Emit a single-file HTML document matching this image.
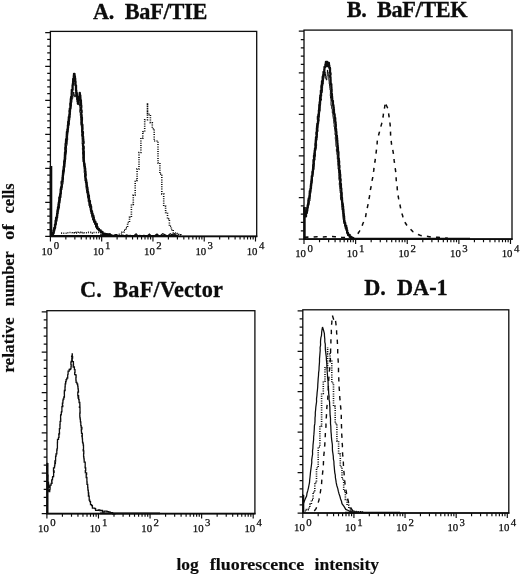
<!DOCTYPE html>
<html><head><meta charset="utf-8"><title>Figure</title>
<style>
html,body{margin:0;padding:0;background:#fff;}
svg{display:block}
text{font-family:"Liberation Serif","DejaVu Serif",serif;fill:#0c0c0c;white-space:pre}
.ti{font-size:22.3px;font-weight:bold;stroke:#0c0c0c;stroke-width:0.3px}
.xl{font-size:17px;font-weight:bold;stroke:#0c0c0c;stroke-width:0.15px}
.yl{font-size:17px;font-weight:bold;stroke:#0c0c0c;stroke-width:0.15px}
.tk{font-size:10.8px;stroke:#0c0c0c;stroke-width:0.25px}
</style></head><body>
<svg width="520" height="575" viewBox="0 0 520 575">
<rect width="520" height="575" fill="#fff"/>
<rect x="50.4" y="31.4" width="206.29999999999998" height="205.0" fill="none" stroke="#0c0c0c" stroke-width="1.3"/>
<path d="M49.8 236.4H257.3" stroke="#0c0c0c" stroke-width="1.7" fill="none"/>
<path d="M45.2 236.40H50.4M47.2 229.60H50.4M47.2 222.81H50.4M47.2 216.01H50.4M47.2 209.21H50.4M45.2 202.42H50.4M47.2 195.62H50.4M47.2 188.82H50.4M47.2 182.03H50.4M47.2 175.23H50.4M45.2 168.43H50.4M47.2 161.64H50.4M47.2 154.84H50.4M47.2 148.04H50.4M47.2 141.25H50.4M45.2 134.45H50.4M47.2 127.65H50.4M47.2 120.86H50.4M47.2 114.06H50.4M47.2 107.26H50.4M45.2 100.47H50.4M47.2 93.67H50.4M47.2 86.87H50.4M47.2 80.08H50.4M47.2 73.28H50.4M45.2 66.48H50.4M47.2 59.69H50.4M47.2 52.89H50.4M47.2 46.09H50.4M47.2 39.30H50.4M45.2 32.50H50.4" stroke="#0c0c0c" stroke-width="1.25" fill="none"/>
<path d="M50.40 236.4v5M65.84 236.4v3.2M74.86 236.4v3.2M81.27 236.4v3.2M86.24 236.4v3.2M90.30 236.4v3.2M93.73 236.4v3.2M96.71 236.4v3.2M99.33 236.4v3.2M101.67 236.4v5M117.11 236.4v3.2M126.14 236.4v3.2M132.55 236.4v3.2M137.51 236.4v3.2M141.57 236.4v3.2M145.01 236.4v3.2M147.98 236.4v3.2M150.60 236.4v3.2M152.95 236.4v5M168.39 236.4v3.2M177.41 236.4v3.2M183.82 236.4v3.2M188.79 236.4v3.2M192.85 236.4v3.2M196.28 236.4v3.2M199.26 236.4v3.2M201.88 236.4v3.2M204.22 236.4v5M219.66 236.4v3.2M228.69 236.4v3.2M235.10 236.4v3.2M240.06 236.4v3.2M244.12 236.4v3.2M247.56 236.4v3.2M250.53 236.4v3.2M253.15 236.4v3.2M255.50 236.4v5" stroke="#0c0c0c" stroke-width="1.15" fill="none"/>
<text x="52.4" y="254.7" text-anchor="end" class="tk">10</text>
<text x="53.8" y="248.9" class="tk">0</text>
<text x="103.7" y="254.7" text-anchor="end" class="tk">10</text>
<text x="105.1" y="248.9" class="tk">1</text>
<text x="154.9" y="254.7" text-anchor="end" class="tk">10</text>
<text x="156.3" y="248.9" class="tk">2</text>
<text x="206.2" y="254.7" text-anchor="end" class="tk">10</text>
<text x="207.6" y="248.9" class="tk">3</text>
<text x="257.5" y="254.7" text-anchor="end" class="tk">10</text>
<text x="258.9" y="248.9" class="tk">4</text>
<path d="M51.0 236.4V166" stroke="#0c0c0c" stroke-width="2.6" fill="none"/>
<path d="M52.0 235.0 L53.0 235.0 L53.0 233.0 L53.5 233.0 L53.5 230.4 L54.2 230.4 L54.2 227.9 L55.0 227.9 L55.0 224.6 L55.5 224.6 L55.5 222.5 L55.6 222.5 L55.6 220.7 L56.1 220.7 L56.1 217.7 L56.9 217.7 L56.9 215.8 L57.1 215.8 L57.1 213.6 L57.4 213.6 L57.4 211.0 L57.7 211.0 L57.7 209.6 L58.0 209.6 L58.0 207.2 L58.5 207.2 L58.5 204.2 L58.8 204.2 L58.8 202.5 L59.2 202.5 L59.2 200.3 L59.3 200.3 L59.3 197.4 L60.0 197.4 L60.0 195.6 L60.2 195.6 L60.2 193.9 L60.6 193.9 L60.6 191.6 L60.7 191.6 L60.7 189.2 L61.1 189.2 L61.1 187.1 L61.7 187.1 L61.7 183.8 L61.6 183.8 L61.6 181.7 L62.4 181.7 L62.4 179.7 L62.5 179.7 L62.5 177.5 L62.8 177.5 L62.8 175.0 L63.0 175.0 L63.0 172.8 L63.1 172.8 L63.1 170.8 L63.5 170.8 L63.5 168.9 L63.7 168.9 L63.7 166.7 L64.1 166.7 L64.1 164.5 L64.2 164.5 L64.2 161.2 L64.5 161.2 L64.5 159.9 L64.8 159.9 L64.8 157.1 L64.9 157.1 L64.9 154.4 L65.0 154.4 L65.0 152.5 L65.4 152.5 L65.4 150.3 L65.3 150.3 L65.3 147.4 L65.8 147.4 L65.8 146.3 L65.6 146.3 L65.6 143.7 L66.0 143.7 L66.0 140.7 L66.1 140.7 L66.1 139.2 L66.7 139.2 L66.7 136.0 L66.8 136.0 L66.8 133.7 L66.9 133.7 L66.9 132.0 L67.4 132.0 L67.4 129.3 L67.8 129.3 L67.8 127.7 L67.9 127.7 L67.9 125.2 L68.2 125.2 L68.2 121.7 L68.7 121.7 L68.7 119.2 L68.8 119.2 L68.8 117.1 L69.3 117.1 L69.3 114.8 L69.6 114.8 L69.6 112.1 L69.5 112.1 L69.5 110.7 L69.8 110.7 L69.8 108.6 L70.4 108.6 L70.4 105.6 L70.3 105.6 L70.3 103.5 L70.7 103.5 L70.7 101.4 L70.8 101.4 L70.8 99.0 L71.1 99.0 L71.1 96.9 L71.7 96.9 L71.7 94.6 L71.7 94.6 L71.7 92.6 L71.8 92.6 L71.8 89.9 L72.6 89.9 L72.6 88.0 L72.6 88.0 L72.6 85.1 L72.9 85.1 L72.9 83.5 L73.1 83.5 L73.1 81.2 L73.2 81.2 L73.2 78.8 L73.8 78.8 L73.8 75.7 L74.0 75.7 L74.0 73.8 L74.5 73.8 L74.5 76.2 L74.9 76.2 L74.9 78.5 L75.2 78.5 L75.2 81.4 L75.5 81.4 L75.5 83.5 L75.4 83.5 L75.4 85.3 L76.0 85.3 L76.0 88.8 L76.0 88.8 L76.0 90.5 L76.3 90.5 L76.3 92.9 L76.7 92.9 L76.7 94.9 L76.9 94.9 L76.9 97.0 L77.2 97.0 L77.2 99.6 L77.5 99.6 L77.5 101.5 L77.9 101.5 L77.9 103.8 L78.4 103.8 L78.4 101.1 L78.7 101.1 L78.7 99.7 L78.9 99.7 L78.9 96.9 L79.5 96.9 L79.5 94.8 L79.7 94.8 L79.7 92.9 L79.8 92.9 L79.8 95.3 L80.3 95.3 L80.3 97.4 L80.4 97.4 L80.4 100.2 L80.9 100.2 L80.9 102.8 L81.0 102.8 L81.0 105.4 L81.3 105.4 L81.3 107.5 L81.1 107.5 L81.1 110.5 L81.6 110.5 L81.6 112.7 L81.3 112.7 L81.3 114.8 L81.6 114.8 L81.6 117.3 L81.9 117.3 L81.9 120.5 L81.8 120.5 L81.8 122.6 L81.8 122.6 L81.8 124.7 L82.4 124.7 L82.4 127.5 L82.5 127.5 L82.5 129.5 L82.3 129.5 L82.3 131.8 L82.9 131.8 L82.9 134.1 L82.8 134.1 L82.8 136.6 L83.1 136.6 L83.1 138.9 L83.3 138.9 L83.3 141.4 L83.6 141.4 L83.6 143.3 L83.1 143.3 L83.1 146.6 L83.7 146.6 L83.7 149.0 L83.5 149.0 L83.5 151.2 L83.8 151.2 L83.8 152.7 L83.8 152.7 L83.8 155.8 L83.8 155.8 L83.8 157.7 L83.8 157.7 L83.8 160.0 L83.9 160.0 L83.9 162.1 L84.1 162.1 L84.1 164.0 L84.6 164.0 L84.6 166.5 L84.9 166.5 L84.9 168.5 L85.2 168.5 L85.2 171.5 L85.5 171.5 L85.5 174.0 L85.7 174.0 L85.7 175.8 L85.5 175.8 L85.5 178.3 L85.8 178.3 L85.8 180.0 L86.2 180.0 L86.2 182.5 L86.7 182.5 L86.7 184.8 L86.9 184.8 L86.9 187.5 L87.4 187.5 L87.4 189.1 L87.6 189.1 L87.6 191.9 L88.1 191.9 L88.1 194.1 L88.4 194.1 L88.4 195.6 L88.9 195.6 L88.9 198.6 L89.1 198.6 L89.1 200.9 L89.9 200.9 L89.9 203.1 L90.0 203.1 L90.0 205.0 L90.7 205.0 L90.7 206.6 L91.1 206.6 L91.1 209.7 L91.3 209.7 L91.3 211.2 L92.0 211.2 L92.0 213.6 L92.6 213.6 L92.6 215.7 L93.4 215.7 L93.4 217.3 L93.8 217.3 L93.8 220.0 L94.4 220.0 L94.4 221.7 L95.4 221.7 L95.4 223.9 L96.8 223.9 L96.8 227.0 L97.5 227.0 L97.5 228.8 L98.9 228.8 L98.9 230.4 L100.7 230.4 L100.7 231.9 L102.5 231.9 L102.5 233.8 L104.9 233.8 L104.9 234.4 L107.6 234.4 L107.6 234.5 L110.0 234.5 L110.0 235.2" stroke="#0c0c0c" stroke-width="2.3" fill="none" stroke-linejoin="round"/>
<path d="M53.5 234.0 L54.0 234.0 L54.0 232.1 L54.6 232.1 L54.6 229.8 L55.0 229.8 L55.0 228.4 L55.6 228.4 L55.6 225.7 L56.0 225.7 L56.0 224.1 L56.4 224.1 L56.4 222.0 L56.8 222.0 L56.8 220.5 L57.1 220.5 L57.1 217.9 L57.7 217.9 L57.7 216.1 L57.7 216.1 L57.7 213.8 L58.1 213.8 L58.1 211.6 L58.6 211.6 L58.6 210.2 L58.8 210.2 L58.8 208.3 L59.4 208.3 L59.4 206.1 L59.6 206.1 L59.6 203.6 L59.9 203.6 L59.9 202.0 L60.0 202.0 L60.0 200.5 L60.4 200.5 L60.4 197.7 L61.0 197.7 L61.0 196.2 L60.9 196.2 L60.9 193.8 L61.3 193.8 L61.3 191.8 L61.5 191.8 L61.5 190.0 L61.9 190.0 L61.9 187.9 L62.1 187.9 L62.1 185.6 L62.4 185.6 L62.4 184.4 L63.0 184.4 L63.0 182.1 L63.0 182.1 L63.0 179.6 L63.5 179.6 L63.5 178.0 L63.5 178.0 L63.5 175.8 L63.7 175.8 L63.7 173.8 L64.0 173.8 L64.0 171.7 L64.4 171.7 L64.4 170.0 L64.5 170.0 L64.5 167.9 L64.8 167.9 L64.8 166.3 L64.9 166.3 L64.9 163.6 L65.2 163.6 L65.2 161.9 L65.5 161.9 L65.5 159.6 L65.8 159.6 L65.8 157.5 L65.8 157.5 L65.8 155.9 L65.9 155.9 L65.9 154.4 L66.2 154.4 L66.2 152.0 L66.5 152.0 L66.5 149.7 L66.6 149.7 L66.6 148.1 L66.5 148.1 L66.5 145.6 L67.0 145.6 L67.0 144.2 L67.1 144.2 L67.1 141.9 L67.3 141.9 L67.3 139.8 L67.7 139.8 L67.7 138.5 L67.6 138.5 L67.6 135.5 L67.8 135.5 L67.8 134.3 L67.9 134.3 L67.9 131.6 L68.2 131.6 L68.2 130.0 L68.3 130.0 L68.3 128.2 L68.7 128.2 L68.7 125.8 L69.0 125.8 L69.0 124.3 L69.4 124.3 L69.4 122.3 L69.3 122.3 L69.3 120.3 L69.8 120.3 L69.8 118.4 L70.0 118.4 L70.0 116.1 L70.1 116.1 L70.1 114.4 L70.3 114.4 L70.3 112.0 L70.6 112.0 L70.6 110.2 L70.7 110.2 L70.7 107.6 L71.0 107.6 L71.0 106.1 L71.4 106.1 L71.4 103.7 L71.5 103.7 L71.5 102.5 L71.9 102.5 L71.9 100.0 L72.1 100.0 L72.1 98.4 L72.8 98.4 L72.8 96.1 L73.3 96.1 L73.3 94.2 L73.4 94.2 L73.4 92.0 L73.9 92.0 L73.9 94.9 L74.8 94.9 L74.8 97.0 L75.2 97.0 L75.2 95.4 L75.9 95.4 L75.9 92.6 L76.2 92.6 L76.2 91.0 L76.4 91.0 L76.4 92.5 L77.1 92.5 L77.1 95.3 L77.3 95.3 L77.3 96.6 L77.8 96.6 L77.8 99.0 L78.3 99.0 L78.3 101.6 L79.0 101.6 L79.0 104.0 L79.4 104.0 L79.4 106.0 L79.9 106.0 L79.9 108.3 L80.0 108.3 L80.0 109.5 L79.8 109.5 L79.8 112.4 L80.3 112.4 L80.3 113.8 L80.3 113.8 L80.3 115.8 L80.7 115.8 L80.7 118.0 L80.8 118.0 L80.8 120.0 L81.0 120.0 L81.0 121.7 L80.9 121.7 L80.9 123.7 L81.1 123.7 L81.1 125.6 L81.4 125.6 L81.4 127.6 L81.7 127.6 L81.7 130.0 L81.7 130.0 L81.7 132.1 L81.7 132.1 L81.7 133.5 L81.7 133.5 L81.7 135.8 L82.1 135.8 L82.1 138.0 L82.1 138.0 L82.1 139.8 L82.2 139.8 L82.2 142.3 L82.1 142.3 L82.1 143.9 L82.4 143.9 L82.4 145.8 L82.6 145.8 L82.6 147.7 L82.4 147.7 L82.4 149.7 L82.9 149.7 L82.9 151.8 L82.6 151.8 L82.6 154.5 L82.9 154.5 L82.9 156.5 L82.8 156.5 L82.8 158.3 L83.0 158.3 L83.0 160.0 L83.0 160.0 L83.0 161.8 L83.6 161.8 L83.6 164.2 L83.8 164.2 L83.8 166.2 L84.1 166.2 L84.1 167.9 L84.2 167.9 L84.2 170.1 L84.2 170.1 L84.2 172.9 L84.5 172.9 L84.5 174.9 L84.6 174.9 L84.6 177.0 L85.2 177.0 L85.2 178.9 L85.0 178.9 L85.0 181.1 L85.4 181.1 L85.4 183.0 L86.0 183.0 L86.0 185.4 L86.0 185.4 L86.0 187.1 L86.2 187.1 L86.2 189.5 L86.5 189.5 L86.5 191.1 L86.8 191.1 L86.8 193.1 L87.3 193.1 L87.3 195.5 L87.5 195.5 L87.5 197.6 L88.1 197.6 L88.1 199.3 L88.2 199.3 L88.2 201.8 L88.9 201.8 L88.9 204.3 L89.0 204.3 L89.0 206.0 L89.5 206.0 L89.5 207.6 L90.2 207.6 L90.2 210.5 L90.7 210.5 L90.7 212.0 L91.0 212.0 L91.0 214.1 L91.7 214.1 L91.7 216.5 L92.1 216.5 L92.1 218.0 L92.6 218.0 L92.6 220.0 L93.5 220.0 L93.5 222.3 L94.6 222.3 L94.6 224.3 L95.5 224.3 L95.5 227.2 L96.5 227.2 L96.5 229.0" stroke="#0c0c0c" stroke-width="1.0" fill="none"/>
<path d="M100.0 234.8 L101.9 234.9 L103.8 235.3 L105.7 233.8 L107.6 235.8 L109.5 233.9 L111.4 234.9 L113.3 235.7 L115.2 234.7 L117.1 235.4 L119.0 235.5 L120.9 235.6 L122.8 235.2 L124.7 235.8 L126.6 234.8 L128.5 235.6 L130.4 235.3 L132.3 235.8 L134.2 235.5 L136.1 233.9 L138.0 235.8 L139.9 235.4 L141.8 235.8 L143.7 235.4 L145.6 235.6 L147.5 235.6 L149.4 234.1 L151.3 235.9 L153.2 235.7 L155.1 235.3 L157.0 234.1 L158.9 235.7 L160.8 235.3 L162.7 233.7 L164.6 234.6 L166.5 235.6 L168.4 235.3 L170.3 233.8 L172.2 235.0 L174.1 233.7 L176.0 235.3 L177.9 235.4 L178.0 235.9" stroke="#0c0c0c" stroke-width="1.2" fill="none"/>
<path d="M50.4 235.9H178" stroke="#0c0c0c" stroke-width="2.0" fill="none"/>
<path d="M61.1 233.1 L63.0 233.1 L63.0 233.2 L64.9 233.2 L64.9 233.2 L66.8 233.2 L66.8 232.7 L68.7 232.7 L68.7 232.5 L70.6 232.5 L70.6 232.7 L72.5 232.7 L72.5 232.8 L74.4 232.8 L74.4 232.9 L76.3 232.9 L76.3 232.3 L78.2 232.3 L78.2 232.2 L80.1 232.2 L80.1 232.7 L82.0 232.7 L82.0 232.6 L83.9 232.6 L83.9 232.8 L85.8 232.8 L85.8 232.7 L87.7 232.7 L87.7 232.4 L89.6 232.4 L89.6 232.4 L91.5 232.4 L91.5 233.1 L93.4 233.1 L93.4 232.5 L95.3 232.5 L95.3 232.5 L97.2 232.5 L97.2 232.5 L99.1 232.5 L99.1 232.8 L101.0 232.8 L101.0 233.2 L102.9 233.2 L102.9 233.5 L104.8 233.5 L104.8 233.9 L106.7 233.9 L106.7 234.5 L108.6 234.5 L108.6 235.0 L110.5 235.0 L110.5 235.3 L112.4 235.3 L112.4 235.2 L114.3 235.2 L114.3 234.7 L116.2 234.7 L116.2 235.1 L118.1 235.1 L118.1 234.2 L120.0 234.2 L120.0 234.0 L121.9 234.0 L121.9 232.3 L123.8 232.3 L123.8 230.3 L125.7 230.3 L125.7 227.6 L127.6 227.6 L127.6 222.5 L129.5 222.5 L129.5 217.3 L131.4 217.3 L131.4 204.4 L133.3 204.4 L133.3 195.0 L135.2 195.0 L135.2 180.4 L137.1 180.4 L137.1 168.9 L139.0 168.9 L139.0 152.5 L140.9 152.5 L140.9 138.1 L142.8 138.1 L142.8 131.7 L144.7 131.7 L144.7 119.7 L147.5 119.7 L147.5 103.0 L147.5 103.0 L147.5 114.4 L150.4 114.4 L150.4 122.7 L152.3 122.7 L152.3 128.7 L154.2 128.7 L154.2 141.0 L156.1 141.0 L156.1 141.0 L158.0 141.0 L158.0 162.9 L159.9 162.9 L159.9 174.1 L161.8 174.1 L161.8 193.9 L163.7 193.9 L163.7 206.3 L165.6 206.3 L165.6 212.5 L167.5 212.5 L167.5 218.9 L169.4 218.9 L169.4 226.3 L171.3 226.3 L171.3 229.7 L173.2 229.7 L173.2 233.0 L175.1 233.0 L175.1 233.5 L177.0 233.5 L177.0 234.5 L178.9 234.5 L178.9 234.9 L180.8 234.9 L180.8 235.2 L181.3 235.2" stroke="#0c0c0c" stroke-width="1.6" stroke-dasharray="1.0 1.3" fill="none"/>
<rect x="304.0" y="30.1" width="208.0" height="209.0" fill="none" stroke="#0c0c0c" stroke-width="1.3"/>
<path d="M303.4 239.1H512.6" stroke="#0c0c0c" stroke-width="1.7" fill="none"/>
<path d="M298.8 239.10H304.0M300.8 230.78H304.0M300.8 222.47H304.0M300.8 214.15H304.0M300.8 205.84H304.0M298.8 197.52H304.0M300.8 189.20H304.0M300.8 180.89H304.0M300.8 172.57H304.0M300.8 164.26H304.0M298.8 155.94H304.0M300.8 147.62H304.0M300.8 139.31H304.0M300.8 130.99H304.0M300.8 122.68H304.0M298.8 114.36H304.0M300.8 106.04H304.0M300.8 97.73H304.0M300.8 89.41H304.0M300.8 81.10H304.0M298.8 72.78H304.0M300.8 64.46H304.0M300.8 56.15H304.0M300.8 47.83H304.0M300.8 39.52H304.0M298.8 31.20H304.0" stroke="#0c0c0c" stroke-width="1.25" fill="none"/>
<path d="M304.00 239.1v5M319.54 239.1v3.2M328.63 239.1v3.2M335.08 239.1v3.2M340.08 239.1v3.2M344.17 239.1v3.2M347.63 239.1v3.2M350.62 239.1v3.2M353.26 239.1v3.2M355.62 239.1v5M371.17 239.1v3.2M380.26 239.1v3.2M386.71 239.1v3.2M391.71 239.1v3.2M395.80 239.1v3.2M399.25 239.1v3.2M402.25 239.1v3.2M404.89 239.1v3.2M407.25 239.1v5M422.79 239.1v3.2M431.88 239.1v3.2M438.33 239.1v3.2M443.33 239.1v3.2M447.42 239.1v3.2M450.88 239.1v3.2M453.87 239.1v3.2M456.51 239.1v3.2M458.88 239.1v5M474.42 239.1v3.2M483.51 239.1v3.2M489.96 239.1v3.2M494.96 239.1v3.2M499.05 239.1v3.2M502.50 239.1v3.2M505.50 239.1v3.2M508.14 239.1v3.2M510.50 239.1v5" stroke="#0c0c0c" stroke-width="1.15" fill="none"/>
<text x="306.0" y="257.4" text-anchor="end" class="tk">10</text>
<text x="307.4" y="251.6" class="tk">0</text>
<text x="357.6" y="257.4" text-anchor="end" class="tk">10</text>
<text x="359.0" y="251.6" class="tk">1</text>
<text x="409.2" y="257.4" text-anchor="end" class="tk">10</text>
<text x="410.6" y="251.6" class="tk">2</text>
<text x="460.9" y="257.4" text-anchor="end" class="tk">10</text>
<text x="462.3" y="251.6" class="tk">3</text>
<text x="512.5" y="257.4" text-anchor="end" class="tk">10</text>
<text x="513.9" y="251.6" class="tk">4</text>
<path d="M304.5 239.1V207" stroke="#0c0c0c" stroke-width="2.4" fill="none"/>
<path d="M306.2 214.0 L306.7 214.0 L306.7 211.9 L307.6 211.9 L307.6 209.2 L307.8 209.2 L307.8 206.8 L308.3 206.8 L308.3 204.6 L309.1 204.6 L309.1 203.0 L309.2 203.0 L309.2 201.0 L310.0 201.0 L310.0 199.2 L309.9 199.2 L309.9 196.9 L310.3 196.9 L310.3 194.8 L310.3 194.8 L310.3 193.4 L310.9 193.4 L310.9 190.5 L310.8 190.5 L310.8 188.5 L311.6 188.5 L311.6 186.5 L311.7 186.5 L311.7 185.6 L311.7 185.6 L311.7 182.9 L312.2 182.9 L312.2 181.5 L312.5 181.5 L312.5 179.0 L312.5 179.0 L312.5 176.6 L312.8 176.6 L312.8 174.3 L313.3 174.3 L313.3 173.2 L313.4 173.2 L313.4 170.2 L313.8 170.2 L313.8 169.0 L314.0 169.0 L314.0 166.4 L314.3 166.4 L314.3 164.7 L314.4 164.7 L314.4 162.5 L314.4 162.5 L314.4 160.3 L314.9 160.3 L314.9 158.6 L314.9 158.6 L314.9 156.7 L315.4 156.7 L315.4 153.7 L315.2 153.7 L315.2 151.8 L315.4 151.8 L315.4 150.4 L315.9 150.4 L315.9 148.0 L316.2 148.0 L316.2 146.0 L316.6 146.0 L316.6 143.7 L316.4 143.7 L316.4 141.3 L316.7 141.3 L316.7 140.2 L317.0 140.2 L317.0 137.2 L317.1 137.2 L317.1 135.1 L317.5 135.1 L317.5 133.1 L317.4 133.1 L317.4 131.7 L318.0 131.7 L318.0 129.6 L317.9 129.6 L317.9 127.5 L318.1 127.5 L318.1 124.7 L318.3 124.7 L318.3 123.5 L318.7 123.5 L318.7 120.8 L319.1 120.8 L319.1 119.5 L319.0 119.5 L319.0 117.6 L319.3 117.6 L319.3 115.0 L319.4 115.0 L319.4 112.4 L319.8 112.4 L319.8 111.3 L320.1 111.3 L320.1 108.8 L320.2 108.8 L320.2 106.5 L320.4 106.5 L320.4 104.5 L320.7 104.5 L320.7 103.1 L320.7 103.1 L320.7 100.2 L321.5 100.2 L321.5 98.6 L321.2 98.6 L321.2 96.3 L321.7 96.3 L321.7 94.8 L321.6 94.8 L321.6 92.7 L322.3 92.7 L322.3 89.9 L322.4 89.9 L322.4 88.5 L322.6 88.5 L322.6 86.0 L322.8 86.0 L322.8 84.2 L323.3 84.2 L323.3 81.5 L323.4 81.5 L323.4 79.9 L323.6 79.9 L323.6 78.5 L324.0 78.5 L324.0 75.7 L324.5 75.7 L324.5 74.0 L324.8 74.0 L324.8 72.0 L325.1 72.0 L325.1 73.8 L325.5 73.8 L325.5 76.5 L325.7 76.5 L325.7 78.5 L326.3 78.5 L326.3 80.0 L326.8 80.0 L326.8 78.2 L326.9 78.2 L326.9 75.9 L327.2 75.9 L327.2 74.3 L327.3 74.3 L327.3 71.9 L327.4 71.9 L327.4 70.0 L327.6 70.0 L327.6 72.2 L328.2 72.2 L328.2 73.4 L328.3 73.4 L328.3 76.0 L328.8 76.0 L328.8 78.0 L328.8 78.0 L328.8 79.6 L329.0 79.6 L329.0 81.4 L329.2 81.4 L329.2 83.9 L329.6 83.9 L329.6 86.2 L329.7 86.2 L329.7 87.6 L330.0 87.6 L330.0 90.0 L330.4 90.0 L330.4 92.2 L330.4 92.2 L330.4 94.2 L330.3 94.2 L330.3 96.1 L330.5 96.1 L330.5 98.2 L330.9 98.2 L330.9 99.4 L331.0 99.4 L331.0 101.5 L331.0 101.5 L331.0 104.0 L331.0 104.0 L331.0 105.6 L331.7 105.6 L331.7 108.7 L332.3 108.7 L332.3 110.0 L332.3 110.0 L332.3 113.0 L332.9 113.0 L332.9 115.0 L332.9 115.0 L332.9 116.5 L333.2 116.5 L333.2 118.6 L333.7 118.6 L333.7 121.0 L333.8 121.0 L333.8 123.4 L334.2 123.4 L334.2 124.6 L334.1 124.6 L334.1 126.9 L334.7 126.9 L334.7 129.0 L334.9 129.0 L334.9 131.2 L335.1 131.2 L335.1 133.0 L335.0 133.0 L335.0 134.9 L335.5 134.9 L335.5 136.7 L335.3 136.7 L335.3 139.4 L335.7 139.4 L335.7 141.2 L335.7 141.2 L335.7 142.4 L335.9 142.4 L335.9 144.9 L336.0 144.9 L336.0 146.7 L336.8 146.7 L336.8 148.9 L336.4 148.9 L336.4 151.4 L336.9 151.4 L336.9 153.0 L336.9 153.0 L336.9 154.6 L337.3 154.6 L337.3 157.2 L337.3 157.2 L337.3 159.3 L337.8 159.3 L337.8 160.8 L337.7 160.8 L337.7 162.4 L337.9 162.4 L337.9 164.8 L338.1 164.8 L338.1 167.3 L338.1 167.3 L338.1 169.2 L338.7 169.2 L338.7 170.6 L338.7 170.6 L338.7 173.0 L339.0 173.0 L339.0 174.5 L338.8 174.5 L338.8 176.6 L338.9 176.6 L338.9 179.5 L339.2 179.5 L339.2 180.8 L339.7 180.8 L339.7 182.5 L339.3 182.5 L339.3 185.3 L339.7 185.3 L339.7 187.4 L339.9 187.4 L339.9 189.5 L339.9 189.5 L339.9 190.7 L340.2 190.7 L340.2 193.0 L340.7 193.0 L340.7 195.1 L340.4 195.1 L340.4 196.6 L340.6 196.6 L340.6 199.5 L341.2 199.5 L341.2 200.8 L341.6 200.8 L341.6 203.7 L341.7 203.7 L341.7 205.5 L341.8 205.5 L341.8 207.7 L342.0 207.7 L342.0 210.1 L342.4 210.1 L342.4 211.9 L342.8 211.9 L342.8 214.3 L342.8 214.3 L342.8 215.3 L343.0 215.3 L343.0 218.4 L343.1 218.4 L343.1 219.6 L343.5 219.6 L343.5 222.0 L344.0 222.0 L344.0 223.9 L344.9 223.9 L344.9 226.4 L345.1 226.4 L345.1 228.6 L346.0 228.6 L346.0 230.2 L346.5 230.2 L346.5 233.0" stroke="#0c0c0c" stroke-width="1.0" fill="none"/>
<path d="M304.3 207.0 L304.3 207.0 L304.3 209.0 L304.5 209.0 L304.5 211.4 L304.5 211.4 L304.5 214.0 L304.8 214.0 L304.8 216.4 L306.0 216.4 L306.0 213.0 L306.8 213.0 L306.8 210.8 L307.2 210.8 L307.2 207.7 L307.7 207.7 L307.7 205.2 L308.2 205.2 L308.2 202.9 L308.4 202.9 L308.4 200.1 L308.7 200.1 L308.7 198.5 L309.4 198.5 L309.4 196.0 L309.7 196.0 L309.7 193.0 L309.8 193.0 L309.8 191.1 L310.4 191.1 L310.4 188.9 L310.8 188.9 L310.8 185.8 L311.0 185.8 L311.0 184.0 L311.3 184.0 L311.3 181.1 L311.6 181.1 L311.6 179.0 L311.8 179.0 L311.8 176.2 L312.3 176.2 L312.3 174.7 L312.4 174.7 L312.4 171.8 L312.9 171.8 L312.9 169.7 L313.1 169.7 L313.1 167.6 L313.2 167.6 L313.2 164.8 L313.5 164.8 L313.5 162.5 L313.5 162.5 L313.5 160.0 L314.1 160.0 L314.1 157.4 L314.0 157.4 L314.0 155.7 L314.4 155.7 L314.4 153.2 L314.7 153.2 L314.7 150.7 L315.0 150.7 L315.0 148.5 L315.5 148.5 L315.5 145.9 L315.4 145.9 L315.4 143.7 L315.7 143.7 L315.7 141.5 L315.8 141.5 L315.8 139.7 L316.0 139.7 L316.0 137.2 L316.6 137.2 L316.6 134.5 L316.4 134.5 L316.4 132.4 L316.9 132.4 L316.9 130.5 L316.9 130.5 L316.9 127.9 L317.1 127.9 L317.1 125.8 L317.3 125.8 L317.3 123.8 L317.9 123.8 L317.9 121.8 L318.1 121.8 L318.1 119.5 L317.9 119.5 L317.9 116.6 L318.4 116.6 L318.4 114.5 L318.9 114.5 L318.9 112.4 L318.9 112.4 L318.9 110.3 L319.2 110.3 L319.2 107.8 L319.3 107.8 L319.3 104.8 L319.7 104.8 L319.7 102.4 L319.9 102.4 L319.9 100.9 L320.1 100.9 L320.1 97.6 L320.3 97.6 L320.3 95.4 L320.9 95.4 L320.9 93.2 L320.9 93.2 L320.9 90.6 L321.5 90.6 L321.5 88.6 L321.4 88.6 L321.4 85.9 L321.8 85.9 L321.8 84.0 L322.0 84.0 L322.0 81.2 L322.7 81.2 L322.7 78.8 L322.7 78.8 L322.7 76.7 L323.2 76.7 L323.2 74.8 L323.5 74.8 L323.5 71.9 L324.3 71.9 L324.3 69.3 L324.5 69.3 L324.5 67.0 L325.4 67.0 L325.4 64.4 L325.9 64.4 L325.9 61.9 L327.2 61.9 L327.2 66.0 L328.5 66.0 L328.5 63.0 L328.9 63.0 L328.9 65.4 L329.3 65.4 L329.3 67.9 L330.0 67.9 L330.0 70.4 L330.0 70.4 L330.0 73.1 L330.5 73.1 L330.5 75.1 L330.2 75.1 L330.2 77.2 L330.5 77.2 L330.5 79.5 L330.6 79.5 L330.6 82.6 L330.7 82.6 L330.7 84.1 L331.3 84.1 L331.3 87.0 L331.4 87.0 L331.4 89.2 L331.6 89.2 L331.6 91.8 L331.5 91.8 L331.5 94.0 L331.9 94.0 L331.9 96.4 L332.1 96.4 L332.1 98.0 L332.2 98.0 L332.2 100.9 L332.9 100.9 L332.9 103.2 L332.9 103.2 L332.9 105.1 L333.4 105.1 L333.4 107.2 L333.7 107.2 L333.7 109.3 L333.9 109.3 L333.9 111.6 L334.0 111.6 L334.0 114.1 L334.6 114.1 L334.6 115.4 L334.7 115.4 L334.7 118.0 L335.2 118.0 L335.2 120.7 L335.2 120.7 L335.2 122.1 L335.6 122.1 L335.6 124.4 L335.8 124.4 L335.8 127.2 L335.6 127.2 L335.6 129.0 L336.1 129.0 L336.1 131.7 L336.4 131.7 L336.4 134.3 L336.3 134.3 L336.3 135.6 L336.9 135.6 L336.9 137.9 L337.1 137.9 L337.1 140.3 L337.3 140.3 L337.3 143.2 L337.5 143.2 L337.5 145.3 L337.7 145.3 L337.7 147.2 L337.9 147.2 L337.9 149.6 L338.0 149.6 L338.0 152.0 L338.4 152.0 L338.4 154.5 L338.4 154.5 L338.4 156.5 L338.3 156.5 L338.3 158.3 L338.8 158.3 L338.8 161.0 L339.1 161.0 L339.1 163.4 L338.9 163.4 L338.9 165.4 L339.4 165.4 L339.4 167.9 L339.2 167.9 L339.2 170.4 L339.8 170.4 L339.8 171.9 L339.9 171.9 L339.9 174.5 L340.2 174.5 L340.2 176.7 L340.1 176.7 L340.1 179.1 L340.6 179.1 L340.6 181.0 L340.4 181.0 L340.4 183.8 L340.9 183.8 L340.9 185.9 L340.9 185.9 L340.9 188.5 L341.3 188.5 L341.3 190.0 L341.3 190.0 L341.3 192.7 L341.7 192.7 L341.7 194.7 L341.7 194.7 L341.7 197.7 L342.0 197.7 L342.0 200.0 L342.1 200.0 L342.1 202.4 L342.4 202.4 L342.4 204.0 L342.8 204.0 L342.8 206.5 L343.1 206.5 L343.1 209.4 L343.4 209.4 L343.4 210.9 L343.5 210.9 L343.5 213.7 L343.8 213.7 L343.8 216.2 L344.1 216.2 L344.1 217.9 L344.2 217.9 L344.2 221.0 L344.6 221.0 L344.6 223.0 L345.2 223.0 L345.2 225.7 L346.2 225.7 L346.2 227.9 L346.7 227.9 L346.7 230.3 L347.2 230.3 L347.2 233.0 L348.0 233.0 L348.0 235.0 L349.7 235.0 L349.7 236.9 L351.5 236.9 L351.5 238.0" stroke="#0c0c0c" stroke-width="2.3" fill="none" stroke-linejoin="round"/>
<path d="M350 238.7H470" stroke="#0c0c0c" stroke-width="2.0" fill="none"/>
<path d="M304.5 237.3 L307.6 237.1 L310.6 237.5 L313.6 237.1 L317.1 236.7 L320.0 237.0 L323.0 237.0 L325.8 236.8 L329.1 236.8 L332.1 236.5 L335.0 236.7 L338.1 236.5 L341.5 237.3 L344.8 237.4 L348.0 237.3 L353.5 237.8 L357.5 234.3 L359.5 231.1 L361.6 227.5 L362.8 223.8 L364.3 220.5 L365.6 216.8 L366.2 213.1 L366.9 209.8 L367.5 206.9 L368.3 203.3 L368.7 200.3 L369.5 196.4 L369.9 193.5 L370.3 190.2 L371.0 187.0 L371.7 183.5 L372.1 180.3 L372.7 177.7 L373.0 173.7 L373.7 170.9 L374.0 167.7 L374.4 164.1 L375.0 161.5 L375.4 157.9 L375.9 154.7 L376.3 151.1 L376.7 148.0 L377.1 145.3 L377.2 141.8 L377.8 138.5 L378.7 134.7 L379.5 131.8 L380.5 127.8 L381.6 123.9 L382.3 121.0 L383.1 117.0 L383.4 114.1 L383.8 110.9 L384.5 108.1 L385.0 104.7 L385.3 102.1 L386.6 105.8 L388.0 108.9 L388.5 112.2 L388.9 116.0 L389.5 118.6 L389.9 122.4 L390.2 125.4 L390.3 128.4 L390.5 131.7 L390.6 135.0 L390.8 138.3 L391.2 141.2 L391.6 144.7 L392.4 147.7 L392.9 150.7 L393.5 154.1 L393.9 157.4 L394.2 160.9 L394.6 163.6 L395.1 166.7 L395.4 169.7 L395.9 173.0 L396.1 176.3 L396.2 179.8 L396.6 183.0 L397.2 185.8 L397.2 188.5 L397.6 192.0 L398.0 195.2 L398.7 198.9 L399.3 201.7 L400.0 205.0 L400.7 208.7 L401.4 212.3 L402.6 215.5 L403.4 219.4 L405.4 223.0 L407.4 226.2 L410.2 228.8 L412.8 231.6 L415.7 232.7 L418.3 234.5 L420.9 235.6 L424.7 236.2 L427.9 236.4 L431.7 237.3 L435.0 237.2 L438.2 237.3 L441.5 237.6 L444.5 237.8 L447.9 238.2" stroke="#0c0c0c" stroke-width="1.5" stroke-dasharray="4 5.2" fill="none"/>
<rect x="46.9" y="310.7" width="208.0" height="202.90000000000003" fill="none" stroke="#0c0c0c" stroke-width="1.3"/>
<path d="M46.3 513.6H255.5" stroke="#0c0c0c" stroke-width="1.7" fill="none"/>
<path d="M41.7 513.60H46.9M43.7 505.53H46.9M43.7 497.46H46.9M43.7 489.38H46.9M43.7 481.31H46.9M41.7 473.24H46.9M43.7 465.17H46.9M43.7 457.10H46.9M43.7 449.02H46.9M43.7 440.95H46.9M41.7 432.88H46.9M43.7 424.81H46.9M43.7 416.74H46.9M43.7 408.66H46.9M43.7 400.59H46.9M41.7 392.52H46.9M43.7 384.45H46.9M43.7 376.38H46.9M43.7 368.30H46.9M43.7 360.23H46.9M41.7 352.16H46.9M43.7 344.09H46.9M43.7 336.02H46.9M43.7 327.94H46.9M43.7 319.87H46.9M41.7 311.80H46.9" stroke="#0c0c0c" stroke-width="1.25" fill="none"/>
<path d="M46.90 513.6v5M62.43 513.6v3.2M71.51 513.6v3.2M77.95 513.6v3.2M82.95 513.6v3.2M87.03 513.6v3.2M90.49 513.6v3.2M93.48 513.6v3.2M96.12 513.6v3.2M98.47 513.6v5M114.00 513.6v3.2M123.08 513.6v3.2M129.53 513.6v3.2M134.52 513.6v3.2M138.61 513.6v3.2M142.06 513.6v3.2M145.05 513.6v3.2M147.69 513.6v3.2M150.05 513.6v5M165.58 513.6v3.2M174.66 513.6v3.2M181.10 513.6v3.2M186.10 513.6v3.2M190.18 513.6v3.2M193.64 513.6v3.2M196.63 513.6v3.2M199.27 513.6v3.2M201.63 513.6v5M217.15 513.6v3.2M226.23 513.6v3.2M232.68 513.6v3.2M237.67 513.6v3.2M241.76 513.6v3.2M245.21 513.6v3.2M248.20 513.6v3.2M250.84 513.6v3.2M253.20 513.6v5" stroke="#0c0c0c" stroke-width="1.15" fill="none"/>
<text x="48.9" y="531.9" text-anchor="end" class="tk">10</text>
<text x="50.3" y="526.1" class="tk">0</text>
<text x="100.5" y="531.9" text-anchor="end" class="tk">10</text>
<text x="101.9" y="526.1" class="tk">1</text>
<text x="152.1" y="531.9" text-anchor="end" class="tk">10</text>
<text x="153.5" y="526.1" class="tk">2</text>
<text x="203.6" y="531.9" text-anchor="end" class="tk">10</text>
<text x="205.0" y="526.1" class="tk">3</text>
<text x="255.2" y="531.9" text-anchor="end" class="tk">10</text>
<text x="256.6" y="526.1" class="tk">4</text>
<path d="M47.4 513.6V463" stroke="#0c0c0c" stroke-width="2.2" fill="none"/>
<path d="M47.0 463.4 L47.4 463.4 L47.4 466.0 L47.2 466.0 L47.2 466.6 L46.7 466.6 L46.7 469.3 L47.3 469.3 L47.3 471.3 L47.3 471.3 L47.3 473.2 L47.3 473.2 L47.3 475.1 L47.9 475.1 L47.9 476.1 L47.8 476.1 L47.8 478.6 L47.8 478.6 L47.8 480.0 L47.6 480.0 L47.6 482.1 L48.5 482.1 L48.5 483.4 L48.6 483.4 L48.6 486.2 L48.8 486.2 L48.8 487.4 L48.1 487.4 L48.1 490.3 L48.8 490.3 L48.8 491.6 L49.7 491.6 L49.7 489.7 L50.0 489.7 L50.0 488.0 L50.1 488.0 L50.1 485.2 L51.1 485.2 L51.1 483.3 L52.0 483.3 L52.0 481.9 L51.7 481.9 L51.7 479.9 L52.5 479.9 L52.5 477.5 L52.7 477.5 L52.7 476.6 L53.6 476.6 L53.6 473.8 L53.6 473.8 L53.6 472.3 L54.1 472.3 L54.1 471.0 L53.5 471.0 L53.5 467.8 L54.5 467.8 L54.5 465.8 L54.8 465.8 L54.8 463.5 L55.4 463.5 L55.4 462.6 L54.9 462.6 L54.9 461.0 L55.6 461.0 L55.6 458.8 L55.6 458.8 L55.6 456.2 L56.1 456.2 L56.1 454.1 L56.0 454.1 L56.0 453.8 L56.8 453.8 L56.8 450.0 L57.1 450.0 L57.1 448.1 L56.9 448.1 L56.9 448.1 L57.4 448.1 L57.4 444.9 L57.4 444.9 L57.4 443.1 L57.4 443.1 L57.4 442.5 L57.5 442.5 L57.5 439.3 L58.5 439.3 L58.5 437.4 L59.0 437.4 L59.0 435.1 L58.8 435.1 L58.8 433.8 L59.5 433.8 L59.5 432.7 L59.4 432.7 L59.4 430.8 L59.4 430.8 L59.4 428.7 L60.0 428.7 L60.0 426.1 L59.9 426.1 L59.9 424.6 L60.1 424.6 L60.1 421.3 L60.7 421.3 L60.7 419.8 L60.7 419.8 L60.7 419.0 L60.6 419.0 L60.6 415.4 L60.8 415.4 L60.8 414.7 L61.3 414.7 L61.3 412.1 L61.6 412.1 L61.6 411.6 L61.9 411.6 L61.9 408.8 L61.9 408.8 L61.9 406.7 L62.8 406.7 L62.8 405.4 L62.4 405.4 L62.4 403.2 L62.9 403.2 L62.9 400.7 L63.1 400.7 L63.1 399.2 L63.8 399.2 L63.8 397.4 L63.9 397.4 L63.9 397.0 L64.4 397.0 L64.4 393.9 L64.3 393.9 L64.3 392.0 L64.4 392.0 L64.4 390.5 L65.1 390.5 L65.1 389.7 L65.0 389.7 L65.0 386.9 L65.2 386.9 L65.2 383.9 L65.7 383.9 L65.7 382.0 L65.6 382.0 L65.6 381.6 L66.1 381.6 L66.1 379.6 L66.8 379.6 L66.8 378.1 L67.7 378.1 L67.7 374.2 L67.4 374.2 L67.4 374.2 L68.1 374.2 L68.1 371.2 L69.2 371.2 L69.2 369.5 L70.3 369.5 L70.3 368.8 L71.0 368.8 L71.0 366.6 L71.2 366.6 L71.2 364.7 L70.9 364.7 L70.9 362.7 L71.1 362.7 L71.1 361.5 L71.8 361.5 L71.8 358.6 L72.0 358.6 L72.0 356.7 L71.6 356.7 L71.6 356.1 L72.2 356.1 L72.2 354.0 L72.3 354.0 L72.3 356.7 L72.6 356.7 L72.6 358.2 L72.2 358.2 L72.2 360.3 L72.3 360.3 L72.3 361.7 L73.4 361.7 L73.4 364.2 L73.5 364.2 L73.5 365.0 L73.2 365.0 L73.2 367.0 L74.4 367.0 L74.4 369.7 L75.0 369.7 L75.0 372.3 L74.7 372.3 L74.7 374.7 L75.9 374.7 L75.9 375.6 L76.1 375.6 L76.1 377.6 L75.9 377.6 L75.9 380.2 L76.1 380.2 L76.1 382.4 L76.9 382.4 L76.9 383.8 L77.6 383.8 L77.6 385.2 L77.8 385.2 L77.8 386.6 L78.0 386.6 L78.0 388.9 L78.3 388.9 L78.3 391.1 L78.5 391.1 L78.5 392.1 L77.8 392.1 L77.8 395.7 L78.6 395.7 L78.6 397.0 L78.1 397.0 L78.1 398.0 L78.7 398.0 L78.7 399.6 L79.1 399.6 L79.1 402.5 L79.8 402.5 L79.8 405.0 L79.9 405.0 L79.9 406.8 L79.4 406.8 L79.4 407.3 L80.0 407.3 L80.0 409.3 L80.0 409.3 L80.0 412.0 L80.1 412.0 L80.1 413.1 L79.8 413.1 L79.8 416.0 L79.9 416.0 L79.9 417.9 L80.2 417.9 L80.2 419.3 L80.4 419.3 L80.4 421.9 L80.8 421.9 L80.8 423.0 L80.8 423.0 L80.8 425.7 L81.2 425.7 L81.2 427.5 L81.9 427.5 L81.9 429.2 L81.3 429.2 L81.3 430.9 L81.5 430.9 L81.5 433.4 L82.3 433.4 L82.3 435.3 L81.9 435.3 L81.9 436.7 L82.3 436.7 L82.3 438.9 L82.5 438.9 L82.5 442.1 L82.8 442.1 L82.8 443.2 L83.2 443.2 L83.2 445.1 L83.5 445.1 L83.5 446.4 L83.5 446.4 L83.5 449.7 L83.2 449.7 L83.2 450.9 L83.8 450.9 L83.8 452.5 L83.8 452.5 L83.8 453.5 L83.6 453.5 L83.6 456.9 L83.9 456.9 L83.9 458.7 L84.1 458.7 L84.1 459.9 L84.2 459.9 L84.2 462.2 L85.2 462.2 L85.2 463.4 L85.2 463.4 L85.2 466.9 L85.1 466.9 L85.1 467.8 L85.7 467.8 L85.7 470.6 L85.3 470.6 L85.3 472.1 L85.4 472.1 L85.4 472.8 L86.6 472.8 L86.6 474.6 L86.2 474.6 L86.2 477.5 L86.9 477.5 L86.9 479.9 L86.9 479.9 L86.9 481.8 L87.1 481.8 L87.1 482.7 L87.0 482.7 L87.0 484.3 L87.7 484.3 L87.7 487.5 L87.9 487.5 L87.9 488.1 L87.9 488.1 L87.9 490.1 L88.3 490.1 L88.3 493.0 L88.7 493.0 L88.7 494.8 L88.4 494.8 L88.4 496.2 L89.2 496.2 L89.2 498.7 L89.2 498.7 L89.2 500.2 L89.8 500.2 L89.8 501.6 L90.5 501.6 L90.5 504.7 L91.6 504.7 L91.6 505.6 L92.4 505.6 L92.4 508.1 L94.8 508.1 L94.8 508.6 L95.6 508.6 L95.6 510.3 L98.3 510.3 L98.3 509.9 L99.8 509.9 L99.8 510.5 L102.5 510.5 L102.5 512.2 L104.1 512.2 L104.1 511.2 L107.0 511.2 L107.0 511.6 L108.8 511.6 L108.8 512.1 L110.4 512.1 L110.4 512.6 L112.6 512.6 L112.6 513.9 L115.0 513.9 L115.0 513.0" stroke="#0c0c0c" stroke-width="1.3" fill="none"/>
<path d="M100 513.3000000000001H160" stroke="#0c0c0c" stroke-width="1.8" fill="none"/>
<rect x="302.8" y="309.8" width="206.0" height="203.2" fill="none" stroke="#0c0c0c" stroke-width="1.3"/>
<path d="M302.2 513H509.40000000000003" stroke="#0c0c0c" stroke-width="1.7" fill="none"/>
<path d="M297.6 513.00H302.8M299.6 504.92H302.8M299.6 496.83H302.8M299.6 488.75H302.8M299.6 480.66H302.8M297.6 472.58H302.8M299.6 464.50H302.8M299.6 456.41H302.8M299.6 448.33H302.8M299.6 440.24H302.8M297.6 432.16H302.8M299.6 424.08H302.8M299.6 415.99H302.8M299.6 407.91H302.8M299.6 399.82H302.8M297.6 391.74H302.8M299.6 383.66H302.8M299.6 375.57H302.8M299.6 367.49H302.8M299.6 359.40H302.8M297.6 351.32H302.8M299.6 343.24H302.8M299.6 335.15H302.8M299.6 327.07H302.8M299.6 318.98H302.8M297.6 310.90H302.8" stroke="#0c0c0c" stroke-width="1.25" fill="none"/>
<path d="M302.80 513v5M318.19 513v3.2M327.19 513v3.2M333.58 513v3.2M338.53 513v3.2M342.58 513v3.2M346.01 513v3.2M348.97 513v3.2M351.59 513v3.2M353.93 513v5M369.32 513v3.2M378.32 513v3.2M384.71 513v3.2M389.66 513v3.2M393.71 513v3.2M397.13 513v3.2M400.10 513v3.2M402.71 513v3.2M405.05 513v5M420.44 513v3.2M429.44 513v3.2M435.83 513v3.2M440.78 513v3.2M444.83 513v3.2M448.26 513v3.2M451.22 513v3.2M453.84 513v3.2M456.18 513v5M471.57 513v3.2M480.57 513v3.2M486.96 513v3.2M491.91 513v3.2M495.96 513v3.2M499.38 513v3.2M502.35 513v3.2M504.96 513v3.2M507.30 513v5" stroke="#0c0c0c" stroke-width="1.15" fill="none"/>
<text x="304.8" y="531.3" text-anchor="end" class="tk">10</text>
<text x="306.2" y="525.5" class="tk">0</text>
<text x="355.9" y="531.3" text-anchor="end" class="tk">10</text>
<text x="357.3" y="525.5" class="tk">1</text>
<text x="407.1" y="531.3" text-anchor="end" class="tk">10</text>
<text x="408.4" y="525.5" class="tk">2</text>
<text x="458.2" y="531.3" text-anchor="end" class="tk">10</text>
<text x="459.6" y="525.5" class="tk">3</text>
<text x="509.3" y="531.3" text-anchor="end" class="tk">10</text>
<text x="510.7" y="525.5" class="tk">4</text>
<path d="M303.3 513V495" stroke="#0c0c0c" stroke-width="2.0" fill="none"/>
<path d="M302.6 494.0 L302.8 497.1 L303.0 500.0 L303.7 502.7 L305.2 499.1 L306.6 496.0 L307.0 493.2 L307.7 490.9 L308.4 488.1 L308.9 485.5 L309.5 482.7 L309.7 479.8 L310.0 477.3 L310.3 474.4 L310.6 471.4 L311.0 468.3 L311.4 465.5 L311.8 462.2 L311.7 460.1 L312.2 456.5 L312.6 454.3 L312.5 451.0 L312.9 448.2 L313.0 445.3 L313.3 442.4 L313.6 439.6 L313.6 437.5 L313.9 434.4 L314.1 431.7 L314.3 429.0 L314.4 425.9 L314.8 423.9 L315.0 421.0 L315.0 418.0 L315.3 415.6 L315.3 412.5 L315.6 410.0 L315.8 407.2 L316.2 404.4 L316.6 401.5 L316.5 398.9 L316.9 395.8 L317.1 392.9 L317.4 390.3 L317.7 387.2 L317.8 384.4 L318.0 381.6 L318.2 378.4 L318.5 375.8 L318.6 372.8 L319.0 370.0 L319.1 367.0 L319.3 364.6 L319.5 361.8 L319.5 358.9 L319.8 355.4 L320.0 352.8 L320.2 350.6 L320.1 347.5 L320.6 345.0 L320.5 342.2 L320.6 340.1 L320.9 337.5 L321.5 335.3 L321.7 331.9 L322.0 329.9 L322.5 327.0 L323.6 330.5 L324.4 333.7 L324.5 336.4 L324.8 339.1 L324.8 342.0 L325.3 344.1 L325.3 347.0 L325.4 349.9 L325.7 352.5 L326.0 354.9 L326.3 357.0 L326.4 359.6 L326.7 362.4 L326.9 365.1 L326.9 367.8 L327.1 369.8 L327.3 373.0 L327.5 375.2 L327.6 377.7 L328.0 380.7 L328.1 383.0 L328.2 386.0 L328.5 388.4 L328.6 391.0 L328.7 393.6 L329.1 396.5 L329.0 399.3 L329.6 402.0 L329.6 404.5 L329.9 407.6 L329.9 410.2 L330.0 412.3 L330.1 415.2 L330.5 418.3 L330.5 420.9 L330.5 423.6 L330.8 426.2 L330.9 429.0 L331.0 431.7 L331.3 434.6 L331.4 436.9 L331.7 440.1 L332.1 442.8 L332.4 445.3 L332.4 448.2 L332.5 450.9 L332.9 453.4 L333.3 456.3 L333.4 459.0 L333.9 461.5 L334.0 464.5 L334.3 467.4 L334.5 469.9 L334.8 472.8 L335.3 475.2 L335.4 477.6 L335.9 480.4 L336.2 482.7 L336.8 485.5 L337.8 488.6 L338.3 491.2 L339.1 494.0 L339.9 496.3 L340.6 499.0 L341.5 501.3 L342.0 503.7 L344.0 506.4 L345.8 509.4 L348.3 510.5 L350.6 511.8 L353.7 511.9 L356.8 511.9 L360.0 512.4" stroke="#0c0c0c" stroke-width="1.25" fill="none"/>
<path d="M304.7 511.0 L306.4 511.0 L306.4 509.6 L308.1 509.6 L308.1 508.0 L309.8 508.0 L309.8 504.4 L311.4 504.4 L311.4 499.9 L313.1 499.9 L313.1 492.1 L314.8 492.1 L314.8 482.6 L316.5 482.6 L316.5 467.7 L318.2 467.7 L318.2 447.0 L319.9 447.0 L319.9 425.9 L321.6 425.9 L321.6 393.5 L323.3 393.5 L323.3 381.2 L325.0 381.2 L325.0 367.7 L327.6 367.7 L327.6 347.0 L327.6 347.0 L327.6 353.9 L330.1 353.9 L330.1 360.6 L331.8 360.6 L331.8 383.0 L333.5 383.0 L333.5 406.4 L335.2 406.4 L335.2 423.6 L336.9 423.6 L336.9 440.9 L338.6 440.9 L338.6 454.1 L340.3 454.1 L340.3 466.8 L342.0 466.8 L342.0 479.0 L343.7 479.0 L343.7 490.9 L345.4 490.9 L345.4 499.5 L347.1 499.5 L347.1 505.3 L348.8 505.3 L348.8 508.4 L350.5 508.4 L350.5 510.0 L352.2 510.0 L352.2 511.2 L353.9 511.2 L353.9 511.2 L355.6 511.2 L355.6 511.5 L357.3 511.5 L357.3 511.7 L359.0 511.7 L359.0 511.9 L360.7 511.9 L360.7 512.1 L362.4 512.1 L362.4 512.2 L363.7 512.2" stroke="#0c0c0c" stroke-width="1.6" stroke-dasharray="1.0 1.3" fill="none"/>
<path d="M314.3 511.0 L316.2 508.5 L317.0 505.8 L318.1 503.0 L319.0 499.9 L319.5 496.4 L320.2 493.3 L320.7 490.0 L321.3 486.5 L321.6 483.5 L321.8 480.0 L322.4 476.9 L322.5 473.9 L322.9 470.4 L323.2 467.4 L323.4 464.3 L323.5 461.1 L323.7 457.7 L323.9 454.4 L324.3 451.3 L324.4 448.2 L324.8 445.0 L324.9 442.0 L325.1 438.4 L325.3 435.5 L325.4 432.0 L325.7 429.0 L326.0 425.8 L325.9 422.6 L326.1 419.7 L326.4 416.1 L326.6 412.9 L326.7 410.0 L326.9 406.6 L327.4 403.5 L327.6 400.6 L327.8 397.2 L327.9 394.3 L328.1 391.0 L328.3 387.8 L328.5 384.4 L328.6 381.5 L328.8 378.2 L329.2 375.4 L329.2 371.7 L329.7 368.8 L329.7 365.7 L330.1 362.4 L330.4 359.2 L330.3 356.0 L330.6 352.7 L330.6 349.4 L330.8 346.4 L330.9 343.2 L330.9 339.7 L331.0 336.2 L331.4 332.9 L331.3 329.7 L331.5 326.0 L331.8 322.4 L332.0 318.8 L332.4 315.5 L333.8 320.0 L335.3 318.4 L335.7 322.0 L336.2 326.0 L336.6 329.2 L336.6 332.8 L337.1 335.9 L337.2 339.4 L337.4 342.4 L337.5 345.6 L337.7 348.7 L337.7 351.8 L337.8 354.7 L337.9 357.7 L338.2 360.8 L338.3 363.8 L338.5 367.0 L338.5 370.0 L338.5 373.3 L338.7 376.0 L338.8 378.9 L338.9 382.4 L339.1 385.3 L339.2 388.2 L339.5 391.4 L339.7 394.7 L339.8 397.5 L340.1 400.6 L340.4 403.5 L340.6 406.7 L341.0 410.0 L341.2 413.0 L341.3 416.2 L341.3 419.6 L341.4 422.9 L341.5 425.9 L341.6 429.0 L341.6 432.1 L341.8 435.4 L342.1 438.8 L342.0 441.9 L342.4 445.0 L342.4 448.2 L342.5 451.6 L342.7 454.9 L343.1 458.0 L343.3 460.7 L343.4 464.1 L343.5 467.4 L343.7 470.4 L344.1 473.2 L344.3 476.8 L344.6 479.7 L344.9 482.7 L345.3 486.3 L345.8 489.5 L346.4 492.4 L346.8 496.0 L347.8 499.0 L348.6 502.7 L349.3 505.6 L352.5 510.4 L358.0 512.0" stroke="#0c0c0c" stroke-width="1.4" stroke-dasharray="4.4 5" fill="none"/>
<path d="M345 512.7H400" stroke="#0c0c0c" stroke-width="1.8" fill="none"/>
<text x="92.9" y="18.6" class="ti" text-anchor="start" textLength="114.4" lengthAdjust="spacing">A.  BaF/TIE</text>
<text x="346.7" y="16.8" class="ti" text-anchor="start" textLength="121" lengthAdjust="spacing">B.  BaF/TEK</text>
<text x="79.9" y="296.6" class="ti" text-anchor="start" textLength="143" lengthAdjust="spacing">C.  BaF/Vector</text>
<text x="364.3" y="294.7" class="ti" text-anchor="start" textLength="83.4" lengthAdjust="spacing">D.  DA-1</text>
<text class="xl" y="569.6"><tspan x="176.5" textLength="22.3" lengthAdjust="spacingAndGlyphs">log</tspan> <tspan x="209.8" textLength="94.3" lengthAdjust="spacingAndGlyphs">fluorescence</tspan> <tspan x="314.6" textLength="64.5" lengthAdjust="spacingAndGlyphs">intensity</tspan></text>
<text class="yl" transform="translate(14.3 372.8) rotate(-90)" y="0"><tspan x="0" textLength="55.5" lengthAdjust="spacingAndGlyphs">relative</tspan> <tspan x="66.5" textLength="54.8" lengthAdjust="spacingAndGlyphs">number</tspan> <tspan x="132.9" textLength="15.8" lengthAdjust="spacingAndGlyphs">of</tspan> <tspan x="159.3" textLength="30.3" lengthAdjust="spacingAndGlyphs">cells</tspan></text>
</svg>
</body></html>
